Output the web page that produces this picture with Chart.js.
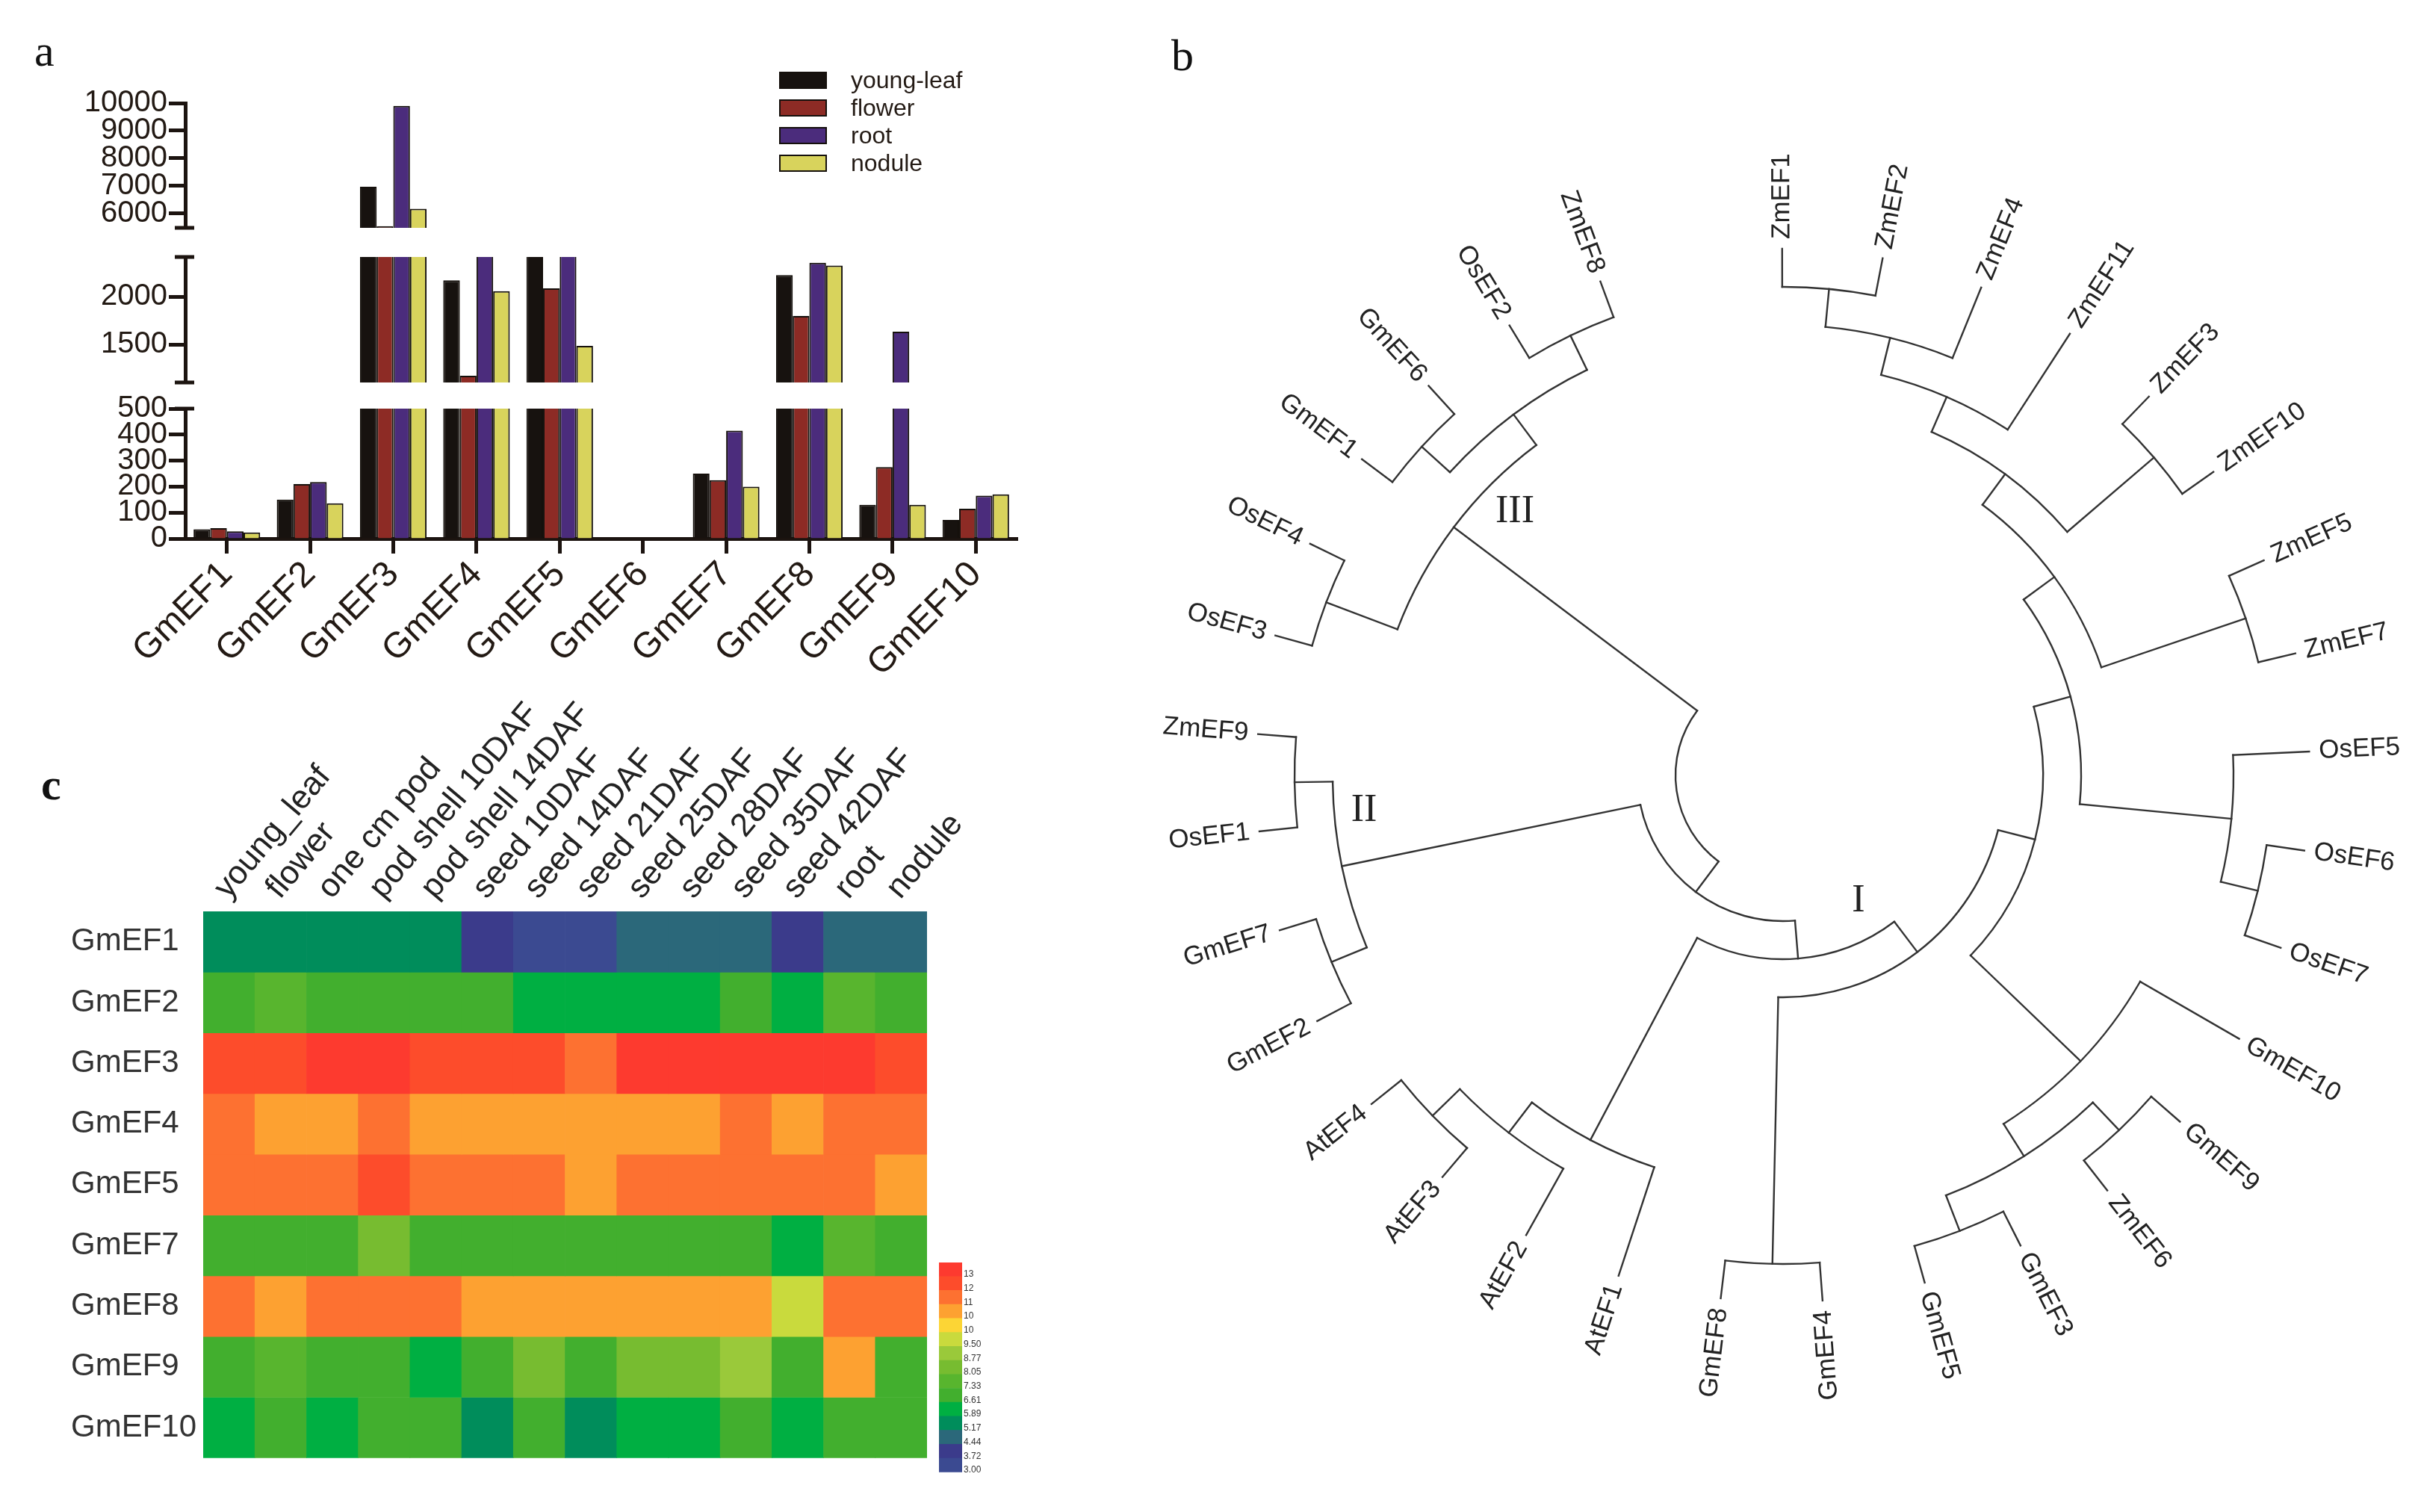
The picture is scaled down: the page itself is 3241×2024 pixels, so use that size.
<!DOCTYPE html>
<html>
<head>
<meta charset="utf-8">
<title>GmEF expression and EF phylogeny</title>
<script src="https://cdn.jsdelivr.net/npm/chart.js@4.4.1/dist/chart.umd.min.js"></script>
<style>
  html, body { margin: 0; padding: 0; background: #fff; }
  #page { position: relative; width: 3241px; height: 2024px; overflow: hidden;
          font-family: 'Liberation Sans', Arial, sans-serif; }
  canvas { position: absolute; }
  .panel-letter { position: absolute; font-family: 'Liberation Serif', 'Times New Roman', serif;
                  font-size: 60px; line-height: 1; color: #111; }
  .legend { position: absolute; left: 1043px; top: 89px; }
  .legend-row { display: flex; align-items: center; height: 37px; }
  .legend-box { width: 60px; height: 19px; border: 2px solid #15100c; }
  .legend-text { margin-left: 32px; font-size: 32px; color: #231a14; }
</style>
</head>
<body>
<div id="page">
  <div class="panel-letter" style="left:46px; top:38px;">a</div>
  <div class="panel-letter" style="left:1568px; top:44px;">b</div>
  <div class="panel-letter" style="left:55px; top:1020px; font-weight:bold;">c</div>

  <canvas id="bars-top" width="1400" height="225" style="left:0; top:100px;"></canvas>
  <canvas id="bars-mid" width="1400" height="212" style="left:0; top:320px;"></canvas>
  <canvas id="bars-low" width="1400" height="480" style="left:0; top:520px;"></canvas>
  <div class="legend" id="bar-legend"></div>

  <canvas id="tree" width="1761" height="2024" style="left:1480px; top:0;"></canvas>

  <canvas id="heatmap" width="1230" height="1050" style="left:95px; top:930px;"></canvas>
  <canvas id="colorbar" width="70" height="300" style="left:1257px; top:1680px;"></canvas>
</div>

<script>
// ---- panel a: expression by tissue (broken y axis) ----
const geneLabels = ['GmEF1', 'GmEF2', 'GmEF3', 'GmEF4', 'GmEF5', 'GmEF6', 'GmEF7', 'GmEF8', 'GmEF9', 'GmEF10'];
const tissueNames = ['young-leaf', 'flower', 'root', 'nodule'];
const tissueColors = ['#17120f', '#8d2b25', '#4b2c7c', '#d8d35c'];
const youngLeaf = [36, 150, 6970, 2175, 2500, 0, 250, 2230, 130, 72];
const flower = [40, 210, 5540, 1170, 2090, 0, 225, 1800, 275, 115];
const root = [28, 218, 9900, 2500, 2500, 0, 415, 2360, 1635, 165];
const nodule = [24, 136, 6170, 2060, 1485, 0, 200, 2330, 130, 170];

const upperTicks = [6000, 7000, 8000, 9000, 10000];
const middleTicks = [1500, 2000];
const lowerTicks = [0, 100, 200, 300, 400, 500];

// ---- panel b: EF gene tree ----
// leaves clockwise from the top, angle of each tip in degrees (screen, clockwise from 3 o'clock)
const leafNames = ['ZmEF1', 'ZmEF2', 'ZmEF4', 'ZmEF11', 'ZmEF3', 'ZmEF10', 'ZmEF5', 'ZmEF7',
    'OsEF5', 'OsEF6', 'OsEF7', 'GmEF10', 'GmEF9', 'ZmEF6', 'GmEF3', 'GmEF5',
    'GmEF4', 'GmEF8', 'AtEF1', 'AtEF2', 'AtEF3', 'AtEF4', 'GmEF2', 'GmEF7',
    'OsEF1', 'ZmEF9', 'OsEF3', 'OsEF4', 'GmEF1', 'GmEF6', 'OsEF2', 'ZmEF8'];
const leafAngles = [269.9, 280.9, 292.1, 303.0, 314.0, 324.8, 335.9, 346.6,
    357.4, 368.2, 379.1, 390.0, 401.1, 412.0, 423.2, 434.4,
    445.7, 456.8, 468.2, 479.2, 490.3, 501.4, 512.2, 522.9,
    533.9, 544.5, 555.4, 566.1, 576.9, 587.7, 598.7, 609.7];

const cladeIII = [[['GmEF1', 'GmEF6'], ['OsEF2', 'ZmEF8']], ['OsEF4', 'OsEF3']];
const cladeII = [['ZmEF9', 'OsEF1'], ['GmEF7', 'GmEF2']];
const atGroup = ['AtEF1', ['AtEF2', ['AtEF3', 'AtEF4']]];
const zmGroup = [[[[[['ZmEF1', 'ZmEF2'], 'ZmEF4'], 'ZmEF11'], ['ZmEF3', 'ZmEF10']], ['ZmEF5', 'ZmEF7']],
    ['OsEF5', ['OsEF6', 'OsEF7']]];
const gmGroup = ['GmEF10', [['GmEF9', 'ZmEF6'], ['GmEF3', 'GmEF5']]];
const treeRoot = [cladeIII, [cladeII, [atGroup, [['GmEF8', 'GmEF4'], [zmGroup, gmGroup]]]]];

const cladeMarks = [
    { text: 'III', x: -359, y: -353 },
    { text: 'II', x: -561, y: 47 },
    { text: 'I', x: 101, y: 168 }
];

// ---- panel c: expression heatmap ----
const heatColumns = ['young_leaf', 'flower', 'one cm pod', 'pod shell 10DAF', 'pod shell 14DAF',
    'seed 10DAF', 'seed 14DAF', 'seed 21DAF', 'seed 25DAF', 'seed 28DAF', 'seed 35DAF',
    'seed 42DAF', 'root', 'nodule'];
const heatGenes = ['GmEF1', 'GmEF2', 'GmEF3', 'GmEF4', 'GmEF5', 'GmEF7', 'GmEF8', 'GmEF9', 'GmEF10'];
const gmEF1Expr = [5.5, 5.5, 5.5, 5.5, 5.5, 4.1, 3.4, 3.4, 4.8, 4.8, 4.8, 4.1, 4.8, 4.8];
const gmEF2Expr = [7.0, 7.7, 7.0, 7.0, 7.0, 7.0, 6.2, 6.2, 6.2, 6.2, 7.0, 6.2, 7.7, 7.0];
const gmEF3Expr = [12.7, 12.7, 13.4, 13.4, 12.7, 12.7, 12.7, 12.0, 13.4, 13.4, 13.4, 13.4, 13.4, 12.7];
const gmEF4Expr = [12.0, 11.3, 11.3, 12.0, 11.3, 11.3, 11.3, 11.3, 11.3, 11.3, 12.0, 11.3, 12.0, 12.0];
const gmEF5Expr = [12.0, 12.0, 12.0, 12.7, 12.0, 12.0, 12.0, 11.3, 12.0, 12.0, 12.0, 12.0, 12.0, 11.3];
const gmEF7Expr = [7.0, 7.0, 7.0, 8.4, 7.0, 7.0, 7.0, 7.0, 7.0, 7.0, 7.0, 6.2, 7.7, 7.0];
const gmEF8Expr = [12.0, 11.3, 12.0, 12.0, 12.0, 11.3, 11.3, 11.3, 11.3, 11.3, 11.3, 9.8, 12.0, 12.0];
const gmEF9Expr = [7.0, 7.7, 7.0, 7.0, 6.2, 7.0, 8.4, 7.0, 8.4, 8.4, 9.1, 7.0, 11.3, 7.0];
const gmEF10Expr = [6.2, 7.0, 6.2, 7.0, 7.0, 5.5, 7.0, 5.5, 6.2, 6.2, 7.0, 6.2, 7.0, 7.0];
const heatRows = [gmEF1Expr, gmEF2Expr, gmEF3Expr, gmEF4Expr, gmEF5Expr, gmEF7Expr, gmEF8Expr, gmEF9Expr, gmEF10Expr];

const scaleEdges = [3.00, 3.72, 4.44, 5.17, 5.89, 6.61, 7.33, 8.05, 8.77, 9.50, 10.22, 10.94, 11.66, 12.38, 13.11];
const scaleTickText = ['3.00', '3.72', '4.44', '5.17', '5.89', '6.61', '7.33', '8.05', '8.77', '9.50', '10', '10', '11', '12', '13'];
const scaleColors = ['#3b4a91', '#3b3b8b', '#2b687a', '#008d5b', '#00af42', '#42af2e', '#58b52e', '#77bc30',
    '#9ac93a', '#c9da3d', '#fcd535', '#fda131', '#fd7131', '#fd4c2b', '#fd3a2f'];

const AXIS_COLOR = '#1c1410';
const TEXT_COLOR = '#231a14';
const TREE_COLOR = '#333';
const LEAF_R = 705;
const LEVEL_STEP = 51;
const LABEL_GAP = 13;

Chart.defaults.font.family = "'Liberation Sans', Arial, sans-serif";

// short horizontal caps at the ends of each broken axis piece
const axisCaps = {
    id: 'axisCaps',
    afterDraw(chart, args, opts) {
        const { ctx, chartArea } = chart;
        const x = chartArea.left - 1;
        ctx.save();
        ctx.strokeStyle = AXIS_COLOR;
        ctx.lineWidth = 5;
        const cap = (y) => {
            ctx.beginPath();
            ctx.moveTo(x - 13, y);
            ctx.lineTo(x + 13, y);
            ctx.stroke();
        };
        if (opts.top) cap(chartArea.top);
        if (opts.bottom) cap(chartArea.bottom);
        ctx.restore();
    }
};

function barDatasets() {
    return [youngLeaf, flower, root, nodule].map((values, i) => ({
        label: tissueNames[i],
        data: values,
        backgroundColor: tissueColors[i],
        borderColor: '#15100c',
        borderWidth: 2,
        categoryPercentage: 0.8,
        barPercentage: 1.0,
        clip: 0
    }));
}

function renderBarSegment(canvasId, min, max, ticks, pad, caps, withXAxis) {
    const xAxis = withXAxis ? {
        afterFit: (axis) => { axis.height = 279; },
        grid: { drawOnChartArea: false, drawTicks: true, tickLength: 20, tickWidth: 5,
                tickColor: AXIS_COLOR, offset: false },
        border: { display: true, width: 5, color: AXIS_COLOR },
        ticks: { font: { size: 48 }, color: TEXT_COLOR, minRotation: 45, maxRotation: 45,
                 autoSkip: false, padding: 0 }
    } : { display: false };

    new Chart(document.getElementById(canvasId), {
        type: 'bar',
        data: { labels: geneLabels, datasets: barDatasets() },
        options: {
            responsive: false,
            animation: false,
            events: [],
            layout: { padding: { top: pad[0], right: 38, bottom: pad[1], left: 0 } },
            plugins: { legend: { display: false }, tooltip: { enabled: false }, axisCaps: caps },
            scales: {
                x: xAxis,
                y: {
                    min: min,
                    max: max,
                    afterBuildTicks: (axis) => { axis.ticks = ticks.map(v => ({ value: v })); },
                    afterFit: (axis) => { axis.width = 248; },
                    grid: { drawOnChartArea: false, drawTicks: true, tickLength: 22, tickWidth: 5,
                            tickColor: AXIS_COLOR },
                    border: { display: true, width: 5, color: AXIS_COLOR },
                    ticks: { font: { size: 40, lineHeight: 0.9 }, color: TEXT_COLOR, padding: 2,
                             autoSkip: false, callback: (v) => String(v) }
                }
            }
        },
        plugins: [axisCaps]
    });
}

function renderBars() {
    renderBarSegment('bars-top', 5480, 10000, upperTicks, [38, 14], { bottom: true }, false);
    renderBarSegment('bars-mid', 1100, 2420, middleTicks, [24, 14], { top: true, bottom: true }, false);
    renderBarSegment('bars-low', 0, 500, lowerTicks, [27, 0], { top: true }, true);

    const legend = document.getElementById('bar-legend');
    tissueNames.forEach((name, i) => {
        const row = document.createElement('div');
        row.className = 'legend-row';
        row.innerHTML = `<span class="legend-box" style="background:${tissueColors[i]}"></span>` +
            `<span class="legend-text">${name}</span>`;
        legend.appendChild(row);
    });
}

// ---- tree ----
function placeNode(node) {
    if (typeof node === 'string') {
        return { name: node, a: leafAngles[leafNames.indexOf(node)], h: 0, kids: [] };
    }
    const kids = node.map(placeNode);
    const angles = kids.map(k => k.a);
    return {
        a: (Math.min(...angles) + Math.max(...angles)) / 2,
        h: 1 + Math.max(...kids.map(k => k.h)),
        kids: kids
    };
}

const radiusOf = (h) => LEAF_R - h * LEVEL_STEP;
const toRad = (d) => d * Math.PI / 180;

function renderTree() {
    const top = placeNode(treeRoot);

    const treeDraw = {
        id: 'treeDraw',
        afterDatasetsDraw(chart) {
            const { ctx, scales: { x, y } } = chart;
            const cx = x.getPixelForValue(0);
            const cy = y.getPixelForValue(0);
            const rpx = (r) => x.getPixelForValue(r) - cx;
            const pt = (r, a) => [x.getPixelForValue(r * Math.cos(toRad(a))),
                                  y.getPixelForValue(r * Math.sin(toRad(a)))];

            ctx.save();
            ctx.strokeStyle = TREE_COLOR;
            ctx.lineWidth = 2.4;
            ctx.lineCap = 'square';

            const walk = (n) => {
                if (!n.kids.length) return;
                const r0 = radiusOf(n.h);
                const angles = n.kids.map(k => k.a);
                ctx.beginPath();
                ctx.arc(cx, cy, rpx(r0), toRad(Math.min(...angles)), toRad(Math.max(...angles)));
                ctx.stroke();
                n.kids.forEach(k => {
                    const p0 = pt(r0, k.a);
                    const p1 = pt(radiusOf(k.h), k.a);
                    ctx.beginPath();
                    ctx.moveTo(p0[0], p0[1]);
                    ctx.lineTo(p1[0], p1[1]);
                    ctx.stroke();
                    walk(k);
                });
            };
            walk(top);

            ctx.fillStyle = '#222';
            ctx.font = "35px 'Liberation Sans', Arial, sans-serif";
            ctx.textBaseline = 'middle';
            leafNames.forEach((name, i) => {
                const a = leafAngles[i];
                const m = ((a % 360) + 360) % 360;
                const p = pt(LEAF_R + LABEL_GAP, a);
                ctx.save();
                ctx.translate(p[0], p[1]);
                if (m < 80 || m > 260) {
                    ctx.rotate(toRad(a));
                    ctx.textAlign = 'left';
                } else {
                    ctx.rotate(toRad(a + 180));
                    ctx.textAlign = 'right';
                }
                ctx.fillText(name, 0, 0);
                ctx.restore();
            });

            ctx.font = "52px 'Liberation Serif', 'Times New Roman', serif";
            ctx.textAlign = 'center';
            ctx.fillStyle = '#222';
            cladeMarks.forEach(mk => {
                ctx.fillText(mk.text, x.getPixelForValue(mk.x), y.getPixelForValue(mk.y));
            });
            ctx.restore();
        }
    };

    new Chart(document.getElementById('tree'), {
        type: 'scatter',
        data: {
            datasets: [{
                label: 'leaves',
                data: leafAngles.map(a => ({ x: LEAF_R * Math.cos(toRad(a)), y: LEAF_R * Math.sin(toRad(a)) })),
                pointRadius: 0
            }]
        },
        options: {
            responsive: false,
            animation: false,
            events: [],
            layout: { padding: 0 },
            plugins: { legend: { display: false }, tooltip: { enabled: false } },
            scales: {
                x: { type: 'linear', min: -907, max: 854, display: false },
                y: { type: 'linear', min: -1038, max: 986, reverse: true, display: false }
            }
        },
        plugins: [treeDraw]
    });
}

// ---- heatmap ----
function colorFor(v) {
    let idx = 0;
    scaleEdges.forEach((e, i) => { if (v >= e) idx = i; });
    return scaleColors[idx];
}

function renderHeatmap() {
    new Chart(document.getElementById('heatmap'), {
        type: 'bar',
        data: {
            labels: heatColumns,
            datasets: heatGenes.map((gene, i) => ({
                label: gene,
                data: heatColumns.map(() => 1),
                backgroundColor: heatRows[i].map(colorFor),
                borderWidth: 0,
                barPercentage: 1,
                categoryPercentage: 1
            }))
        },
        options: {
            responsive: false,
            animation: false,
            events: [],
            layout: { padding: { top: 0, right: 84, bottom: 8, left: 0 } },
            plugins: { legend: { display: false }, tooltip: { enabled: false } },
            scales: {
                x: {
                    stacked: true,
                    position: 'top',
                    afterFit: (axis) => { axis.height = 290; },
                    grid: { display: false, drawTicks: false },
                    border: { display: false },
                    ticks: { font: { size: 44 }, color: '#222', minRotation: 50, maxRotation: 50,
                             autoSkip: false, padding: 6, labelOffset: 30 }
                },
                y: {
                    stacked: true,
                    min: 0,
                    max: heatGenes.length,
                    reverse: true,
                    afterBuildTicks: (axis) => { axis.ticks = heatGenes.map((g, i) => ({ value: i + 0.5 })); },
                    afterFit: (axis) => { axis.width = 177; },
                    grid: { display: false, drawTicks: false },
                    border: { display: false },
                    ticks: { font: { size: 42 }, color: '#333', crossAlign: 'far',
                             callback: (v, i) => heatGenes[i] }
                }
            }
        }
    });

    new Chart(document.getElementById('colorbar'), {
        type: 'bar',
        data: {
            labels: [''],
            datasets: scaleColors.map((c, i) => ({
                label: scaleTickText[i],
                data: [1],
                backgroundColor: c,
                borderWidth: 0,
                barPercentage: 1,
                categoryPercentage: 1
            }))
        },
        options: {
            responsive: false,
            animation: false,
            events: [],
            layout: { padding: { top: 10, right: 0, bottom: 7, left: 0 } },
            plugins: { legend: { display: false }, tooltip: { enabled: false } },
            scales: {
                x: { stacked: true, display: false },
                y: {
                    stacked: true,
                    position: 'right',
                    min: 0,
                    max: scaleColors.length,
                    afterBuildTicks: (axis) => { axis.ticks = scaleTickText.map((t, i) => ({ value: i + 0.15 })); },
                    afterFit: (axis) => { axis.width = 39; },
                    grid: { display: false, drawTicks: false },
                    border: { display: false },
                    ticks: { font: { size: 12 }, color: '#333', padding: 2, autoSkip: false,
                             callback: (v, i) => scaleTickText[i] }
                }
            }
        }
    });
}

renderBars();
renderTree();
renderHeatmap();
</script>
</body>
</html>
